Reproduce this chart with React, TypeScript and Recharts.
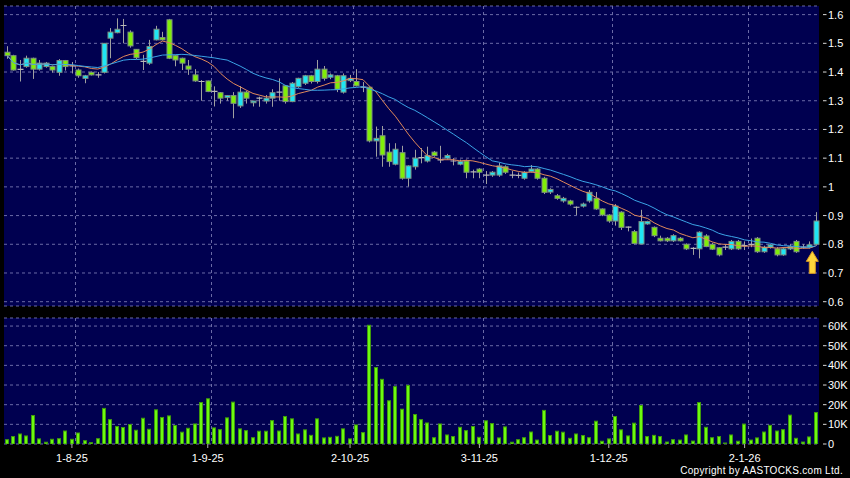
import React from 'react';
import {
  ComposedChart,
  Bar,
  Line,
  XAxis,
  YAxis,
  CartesianGrid,
  ReferenceDot,
} from 'recharts';

// trading days per month (d-m-yy labels)
const monthDays: [string, number[]][] = [
  ['7-25', [18, 21, 22, 23, 24, 25, 28, 29, 30, 31]],
  ['8-25', [1, 4, 5, 6, 7, 8, 11, 12, 13, 14, 15, 18, 19, 20, 21, 22, 25, 26, 27, 28, 29]],
  ['9-25', [1, 2, 3, 4, 5, 8, 9, 10, 11, 12, 15, 16, 17, 18, 19, 22, 23, 24, 25, 26, 29, 30]],
  ['10-25', [2, 3, 6, 8, 9, 10, 13, 14, 15, 16, 17, 20, 21, 22, 23, 24, 27, 28, 30, 31]],
  ['11-25', [3, 4, 5, 6, 7, 10, 11, 12, 13, 14, 17, 18, 19, 20, 21, 24, 25, 26, 27, 28]],
  ['12-25', [1, 2, 3, 4, 5, 8, 9, 10, 11, 12, 15, 16, 17, 18, 19, 22, 23, 24, 29, 30, 31]],
  ['1-26', [2, 5, 6, 7, 8, 9, 12, 13, 14, 15, 16, 19]],
];

const opens = [
  1.469, 1.457, 1.408, 1.419, 1.448, 1.41, 1.419, 1.419, 1.399, 1.44,
  1.421, 1.407, 1.378, 1.399, 1.39, 1.399, 1.518, 1.537, 1.562, 1.539,
  1.479, 1.437, 1.431, 1.512, 1.52, 1.582, 1.457, 1.448, 1.421, 1.39,
  1.367, 1.369, 1.335, 1.328, 1.311, 1.318, 1.282, 1.33, 1.293, 1.309,
  1.299, 1.309, 1.33, 1.352, 1.297, 1.349, 1.361, 1.387, 1.367, 1.41,
  1.382, 1.387, 1.33, 1.37, 1.367, 1.35, 1.347, 1.16, 1.178, 1.121,
  1.079, 1.119, 1.03, 1.07, 1.102, 1.09, 1.121, 1.094, 1.1, 1.09,
  1.079, 1.09, 1.052, 1.062, 1.041, 1.041, 1.041, 1.07, 1.041, 1.04,
  1.03, 1.053, 1.062, 1.03, 0.982, 0.969, 0.951, 0.951, 0.929, 0.933,
  0.951, 0.96, 0.923, 0.902, 0.881, 0.912, 0.86, 0.844, 0.801, 0.871,
  0.859, 0.821, 0.821, 0.812, 0.821, 0.8, 0.786, 0.784, 0.829, 0.8,
  0.788, 0.79, 0.784, 0.81, 0.795, 0.8, 0.821, 0.774, 0.79, 0.784,
  0.763, 0.784, 0.81, 0.79, 0.79, 0.8,
];

const highs = [
  1.49, 1.46, 1.442, 1.457, 1.45, 1.442, 1.435, 1.422, 1.445, 1.442,
  1.435, 1.412, 1.39, 1.402, 1.4, 1.5, 1.553, 1.587, 1.585, 1.545,
  1.48, 1.46, 1.512, 1.561, 1.54, 1.585, 1.46, 1.45, 1.442, 1.41,
  1.372, 1.37, 1.35, 1.33, 1.32, 1.33, 1.351, 1.335, 1.3, 1.314,
  1.32, 1.34, 1.378, 1.355, 1.365, 1.38, 1.39, 1.39, 1.442, 1.421,
  1.395, 1.39, 1.395, 1.39, 1.41, 1.365, 1.35, 1.21, 1.212, 1.152,
  1.152, 1.143, 1.075, 1.129, 1.135, 1.14, 1.125, 1.143, 1.115, 1.1,
  1.095, 1.095, 1.06, 1.065, 1.055, 1.055, 1.083, 1.075, 1.055, 1.05,
  1.055, 1.076, 1.065, 1.035, 0.995, 0.975, 0.965, 0.955, 0.932, 0.945,
  0.989, 0.982, 0.925, 0.905, 0.94, 0.915, 0.862, 0.85, 0.92, 0.882,
  0.862, 0.83, 0.825, 0.835, 0.825, 0.803, 0.79, 0.845, 0.835, 0.805,
  0.79, 0.8, 0.815, 0.815, 0.81, 0.82, 0.825, 0.795, 0.8, 0.79,
  0.79, 0.8, 0.815, 0.8, 0.81, 0.912,
];

const lows = [
  1.446, 1.405, 1.367, 1.415, 1.376, 1.405, 1.415, 1.398, 1.387, 1.405,
  1.395, 1.38, 1.361, 1.388, 1.38, 1.395, 1.448, 1.535, 1.5, 1.485,
  1.445, 1.407, 1.425, 1.51, 1.51, 1.445, 1.42, 1.407, 1.39, 1.366,
  1.3, 1.33, 1.28, 1.29, 1.3, 1.239, 1.275, 1.29, 1.28, 1.279,
  1.29, 1.279, 1.3, 1.29, 1.295, 1.345, 1.355, 1.36, 1.36, 1.37,
  1.375, 1.33, 1.325, 1.365, 1.35, 1.33, 1.155, 1.105, 1.07, 1.07,
  1.075, 1.025, 1.001, 1.06, 1.082, 1.085, 1.105, 1.083, 1.095, 1.075,
  1.075, 1.03, 1.03, 1.03, 1.01, 1.035, 1.035, 1.045, 1.03, 1.03,
  1.025, 1.05, 1.025, 0.975, 0.975, 0.955, 0.945, 0.935, 0.902, 0.928,
  0.945, 0.92, 0.898, 0.875, 0.865, 0.85, 0.845, 0.8, 0.8, 0.868,
  0.825, 0.81, 0.808, 0.808, 0.81, 0.78, 0.763, 0.751, 0.79, 0.78,
  0.758, 0.78, 0.78, 0.78, 0.78, 0.79, 0.77, 0.77, 0.785, 0.758,
  0.76, 0.78, 0.77, 0.785, 0.785, 0.795,
];

const closes = [
  1.457, 1.407, 1.411, 1.448, 1.41, 1.431, 1.431, 1.407, 1.44, 1.419,
  1.421, 1.387, 1.387, 1.39, 1.39, 1.5, 1.539, 1.549, 1.562, 1.491,
  1.45, 1.437, 1.489, 1.549, 1.512, 1.448, 1.442, 1.431, 1.41, 1.369,
  1.367, 1.332, 1.33, 1.309, 1.318, 1.291, 1.33, 1.309, 1.299, 1.309,
  1.309, 1.328, 1.33, 1.297, 1.361, 1.378, 1.387, 1.367, 1.41, 1.378,
  1.39, 1.34, 1.387, 1.378, 1.352, 1.345, 1.16, 1.169, 1.111, 1.088,
  1.131, 1.03, 1.073, 1.1, 1.102, 1.109, 1.109, 1.094, 1.109, 1.09,
  1.088, 1.051, 1.052, 1.051, 1.041, 1.051, 1.073, 1.051, 1.041, 1.04,
  1.051, 1.062, 1.03, 0.981, 0.991, 0.96, 0.96, 0.94, 0.929, 0.94,
  0.981, 0.923, 0.902, 0.881, 0.933, 0.859, 0.86, 0.803, 0.879, 0.879,
  0.83, 0.812, 0.812, 0.83, 0.812, 0.784, 0.786, 0.842, 0.792, 0.783,
  0.763, 0.79, 0.81, 0.784, 0.795, 0.8, 0.774, 0.79, 0.798, 0.763,
  0.784, 0.792, 0.774, 0.79, 0.798, 0.881,
];

// volume in thousands of shares
const volumeK = [
  2.2, 3.8, 5.1, 4.1, 14.5, 2.6, 0.9, 2.4, 2.7, 6.6,
  2.4, 5.6, 1.7, 0.7, 2.7, 18.1, 12.4, 8.9, 8.4, 9.9,
  7.0, 13.1, 7.5, 17.4, 13.5, 14.3, 9.4, 6.0, 8.0, 10.2,
  21.1, 23.0, 8.2, 7.3, 13.3, 21.3, 7.7, 6.8, 3.2, 6.5,
  6.5, 11.9, 6.6, 14.0, 12.8, 5.1, 7.2, 4.4, 12.8, 3.1,
  3.4, 3.9, 7.7, 2.6, 9.7, 5.8, 60.4, 38.9, 32.9, 22.0,
  29.2, 17.7, 29.8, 15.0, 12.4, 10.7, 3.2, 10.2, 4.6, 3.8,
  8.5, 6.8, 8.9, 3.4, 11.8, 10.4, 3.1, 8.7, 0.9, 2.2,
  3.2, 6.1, 2.0, 17.1, 4.3, 6.5, 6.0, 2.9, 5.1, 4.3,
  3.2, 11.6, 1.4, 2.6, 14.0, 7.2, 4.1, 10.6, 19.6, 3.8,
  4.4, 3.8, 1.0, 2.2, 2.0, 4.6, 1.5, 21.1, 8.5, 3.2,
  3.8, 0.5, 4.6, 1.4, 10.1, 2.0, 3.1, 6.1, 9.5, 6.6,
  7.3, 14.7, 2.9, 1.0, 3.6, 16.0,
];

const priceTicks = [0.6, 0.7, 0.8, 0.9, 1, 1.1, 1.2, 1.3, 1.4, 1.5, 1.6];
const volumeTicks = [0, 10000, 20000, 30000, 40000, 50000, 60000];
const monthStarts = ['1-8-25', '1-9-25', '2-10-25', '3-11-25', '1-12-25', '2-1-26'];
const markerIndex = 124;
const markerPrice = 0.737;

const dates = monthDays.flatMap(([my, days]) => days.map((d) => `${d}-${my}`));

// simple moving average (shorter window at the start)
const sma = (vals: number[], n: number, i: number) => {
  const s = vals.slice(Math.max(0, i - n + 1), i + 1);
  return s.reduce((a, b) => a + b, 0) / s.length;
};

const data = dates.map((date, i) => ({
  date,
  open: opens[i],
  high: highs[i],
  low: lows[i],
  close: closes[i],
  range: [lows[i], highs[i]],
  volume: volumeK[i] * 1000,
  ma10: sma(closes, 10, i),
  ma20: sma(closes, 20, i),
}));

const NAVY = '#000050';
const GRID = '#6a6aa6';
const FONT = '"Liberation Sans", Arial, sans-serif';

function Candle(props: any) {
  const { x, y, width, height, payload } = props;
  const { open, close, high, low } = payload;
  const top = Math.min(y, y + height);
  const h = Math.abs(height);
  const k = high > low ? h / (high - low) : 0;
  const cx = Math.round(x + width / 2) + 0.5;
  const bodyTop = top + (high - Math.max(open, close)) * k;
  const bodyBot = top + (high - Math.min(open, close)) * k;
  const up = close > open;
  const doji = bodyBot - bodyTop < 1.5;
  return (
    <g>
      <line x1={cx} x2={cx} y1={top} y2={top + h} stroke="#a0a0a0" strokeWidth={1} />
      {doji ? (
        <line x1={cx - 3} x2={cx + 3} y1={(bodyTop + bodyBot) / 2} y2={(bodyTop + bodyBot) / 2} stroke="#b8b8b8" strokeWidth={1.2} />
      ) : (
        <rect
          x={cx - 2.5}
          y={bodyTop}
          width={5}
          height={bodyBot - bodyTop}
          fill={up ? '#1fe6f4' : '#80ee08'}
          stroke="#7d9080"
          strokeWidth={1}
        />
      )}
    </g>
  );
}

function VolBar(props: any) {
  const { x, y, width, height } = props;
  if (!height) return null;
  const left = Math.round(x) + 0.5;
  return <rect x={left} y={y} width={Math.max(1, Math.round(width) - 1)} height={height} fill="#6cfa10" stroke="#3f9a0c" strokeWidth={1} />;
}

function Arrow(props: any) {
  const { cx, cy } = props;
  const ax = cx + 3;
  const pts = [
    [ax, cy - 11],
    [ax + 6, cy - 1],
    [ax + 3, cy - 1],
    [ax + 3, cy + 11],
    [ax - 3, cy + 11],
    [ax - 3, cy - 1],
    [ax - 6, cy - 1],
  ]
    .map((p) => p.join(','))
    .join(' ');
  return <polygon points={pts} fill="#ffd63c" stroke="#d99a22" strokeWidth={1} />;
}

function RightTick(props: any) {
  const { x, y, payload, fmt } = props;
  return (
    <g>
      <line x1={x + 4} x2={x + 7.5} y1={y} y2={y} stroke="#d8d8d8" strokeWidth={1} />
      <text x={x + 9} y={y} dy={4} fill="#ffffff" fontSize={11} fontFamily={FONT}>
        {fmt(payload.value)}
      </text>
    </g>
  );
}

// vertical grid at the right edge of each month's first bar (band scale, no padding)
const monthGrid = ({ offset }: any) => {
  if (!offset) return [];
  const band = offset.width / dates.length;
  return monthStarts.map((d) => Math.round(offset.left + (dates.indexOf(d) + 1) * band) + 0.5);
};

const fmtPrice = (v: number) => String(+v.toFixed(1));
const fmtVol = (v: number) => (v === 0 ? '0' : `${v / 1000}K`);

export default function App() {
  return (
    <div
      style={{
        position: 'absolute',
        left: 0,
        top: 0,
        width: 850,
        height: 478,
        background: '#000',
        overflow: 'hidden',
        fontFamily: FONT,
      }}
    >
      <div style={{ position: 'absolute', left: 0, top: 0 }}>
        <ComposedChart width={850} height={310} data={data} margin={{ top: 6, right: 0, bottom: 4, left: 4 }} barCategoryGap={1}>
          <CartesianGrid fill={NAVY} stroke={GRID} strokeDasharray="3 3" verticalCoordinatesGenerator={monthGrid} />
          <XAxis dataKey="date" hide />
          <YAxis
            orientation="right"
            width={31}
            type="number"
            domain={[0.585, 1.63]}
            ticks={priceTicks}
            allowDataOverflow
            axisLine={false}
            tickLine={false}
            tickSize={0}
            tickMargin={0}
            interval={0}
            tick={<RightTick fmt={fmtPrice} />}
          />
          <Bar dataKey="range" isAnimationActive={false} shape={(p: any) => <Candle {...p} />} />
          <Line dataKey="ma10" stroke="#e0885a" strokeWidth={1} dot={false} isAnimationActive={false} />
          <Line dataKey="ma20" stroke="#3ba4e6" strokeWidth={1} dot={false} isAnimationActive={false} />
          <ReferenceDot x={dates[markerIndex]} y={markerPrice} shape={(p: any) => <Arrow {...p} />} />
        </ComposedChart>
      </div>
      <div style={{ position: 'absolute', left: 0, top: 310 }}>
        <ComposedChart width={850} height={168} data={data} margin={{ top: 8, right: 0, bottom: 10, left: 4 }} barCategoryGap={1}>
          <CartesianGrid fill={NAVY} stroke={GRID} strokeDasharray="3 3" verticalCoordinatesGenerator={monthGrid} />
          <XAxis
            dataKey="date"
            height={24}
            ticks={monthStarts}
            interval={0}
            axisLine={false}
            tickLine={{ stroke: '#b0b0b0' }}
            tickSize={4}
            tickMargin={6}
            tick={{ fill: '#ffffff', fontSize: 11, fontFamily: FONT }}
          />
          <YAxis
            orientation="right"
            width={31}
            type="number"
            domain={[0, 64100]}
            ticks={volumeTicks}
            allowDataOverflow
            axisLine={false}
            tickLine={false}
            tickSize={0}
            tickMargin={0}
            interval={0}
            tick={<RightTick fmt={fmtVol} />}
          />
          <Bar dataKey="volume" isAnimationActive={false} shape={(p: any) => <VolBar {...p} />} />
        </ComposedChart>
      </div>
      <div
        style={{
          position: 'absolute',
          right: 7,
          top: 465,
          color: '#ffffff',
          fontSize: 10,
          letterSpacing: 0.3,
          lineHeight: '12px',
          whiteSpace: 'nowrap',
        }}
      >
        Copyright by AASTOCKS.com Ltd.
      </div>
    </div>
  );
}
